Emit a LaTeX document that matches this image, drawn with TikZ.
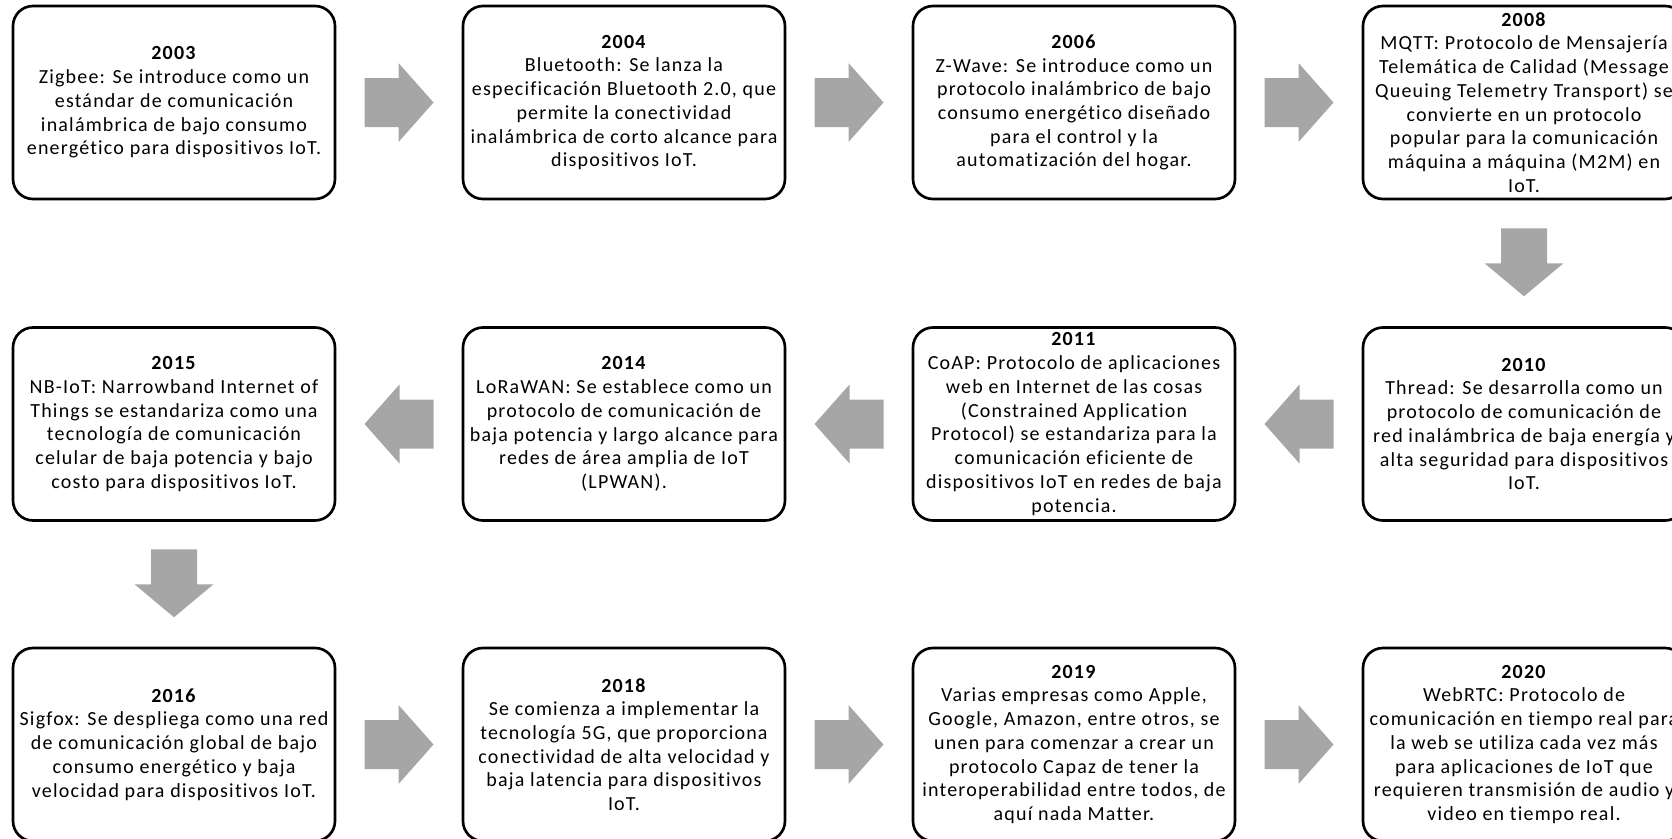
\documentclass[tikz,border=0pt]{standalone}
\usepackage{fontspec}
\setmainfont{Carlito}[LetterSpace=6,Ligatures=NoCommon]
\usetikzlibrary{calc}
\definecolor{arrowfill}{RGB}{166,166,166}
\tikzset{
  evbox/.style={draw=black, line width=2pt, rounded corners=15pt, fill=white,
    minimum width=241.5pt, minimum height=144.75pt, inner sep=0pt,
    align=center, font=\fontsize{15}{17.8}\selectfont},
  rblk/.pic={\fill[arrowfill] (-34.5,-24.5) -- ++(34,0) -- ++(0,-15) -- ++(35,39.5) -- ++(-35,39.5) -- ++(0,-15) -- ++(-34,0) -- cycle;},
  lblk/.pic={\fill[arrowfill] (34.5,-24.5) -- ++(-34,0) -- ++(0,-15) -- ++(-35,39.5) -- ++(35,39.5) -- ++(0,-15) -- ++(34,0) -- cycle;},
  dblk/.pic={\fill[arrowfill] (-23,-35) -- ++(46,0) -- ++(0,35) -- ++(16.5,0) -- ++(-39.5,33) -- ++(-39.5,-33) -- ++(16.5,0) -- cycle;}
}
\begin{document}
\begin{tikzpicture}[x=0.75pt,y=-0.75pt]
\useasboundingbox (0,0) rectangle (1672,839);
% row 1
\node[evbox] (b1) at (174,102.5) {\textbf{2003}\\Zigbee: Se introduce como un\\estándar de comunicación\\inalámbrica de bajo consumo\\energético para dispositivos IoT.};
\node[evbox] (b2) at (624,102.5) {\textbf{2004}\\Bluetooth: Se lanza la\\especificación Bluetooth 2.0, que\\permite la conectividad\\inalámbrica de corto alcance para\\dispositivos IoT.};
\node[evbox] (b3) at (1074,102.5) {\textbf{2006}\\Z-Wave: Se introduce como un\\protocolo inalámbrico de bajo\\consumo energético diseñado\\para el control y la\\automatización del hogar.};
\node[evbox] (b4) at (1524,102.5) {\textbf{2008}\\MQTT: Protocolo de Mensajería\\Telemática de Calidad (Message\\Queuing Telemetry Transport) se\\convierte en un protocolo\\popular para la comunicación\\máquina a máquina (M2M) en\\IoT.};
% row 2
\node[evbox] (b5) at (1524,424) {\textbf{2010}\\Thread: Se desarrolla como un\\protocolo de comunicación de\\red inalámbrica de baja energía y\\alta seguridad para dispositivos\\IoT.};
\node[evbox] (b6) at (1074,424) {\textbf{2011}\\CoAP: Protocolo de aplicaciones\\web en Internet de las cosas\\(Constrained Application\\Protocol) se estandariza para la\\comunicación eficiente de\\dispositivos IoT en redes de baja\\potencia.};
\node[evbox] (b7) at (624,424) {\textbf{2014}\\LoRaWAN: Se establece como un\\protocolo de comunicación de\\baja potencia y largo alcance para\\redes de área amplia de IoT\\(LPWAN).};
\node[evbox] (b8) at (174,424) {\textbf{2015}\\NB-IoT: Narrowband Internet of\\Things se estandariza como una\\tecnología de comunicación\\celular de baja potencia y bajo\\costo para dispositivos IoT.};
% row 3
\node[evbox] (b9) at (174,744.5) {\textbf{2016}\\Sigfox: Se despliega como una red\\de comunicación global de bajo\\consumo energético y baja\\velocidad para dispositivos IoT.};
\node[evbox] (b10) at (624,744.5) {\textbf{2018}\\Se comienza a implementar la\\tecnología 5G, que proporciona\\conectividad de alta velocidad y\\baja latencia para dispositivos\\IoT.};
\node[evbox] (b11) at (1074,744.5) {\textbf{2019}\\Varias empresas como Apple,\\Google, Amazon, entre otros, se\\unen para comenzar a crear un\\protocolo Capaz de tener la\\interoperabilidad entre todos, de\\aquí nada Matter.};
\node[evbox] (b12) at (1524,744.5) {\textbf{2020}\\WebRTC: Protocolo de\\comunicación en tiempo real para\\la web se utiliza cada vez más\\para aplicaciones de IoT que\\requieren transmisión de audio y\\video en tiempo real.};
% arrows
\coordinate (m12) at ($(b1.east)!0.5!(b2.west)$);
\coordinate (m23) at ($(b2.east)!0.5!(b3.west)$);
\coordinate (m34) at ($(b3.east)!0.5!(b4.west)$);
\coordinate (m45) at ($(b4.south)!0.5!(b5.north)$);
\coordinate (m56) at ($(b6.east)!0.5!(b5.west)$);
\coordinate (m67) at ($(b7.east)!0.5!(b6.west)$);
\coordinate (m78) at ($(b8.east)!0.5!(b7.west)$);
\coordinate (m89) at ($(b8.south)!0.5!(b9.north)$);
\coordinate (m910) at ($(b9.east)!0.5!(b10.west)$);
\coordinate (m1011) at ($(b10.east)!0.5!(b11.west)$);
\coordinate (m1112) at ($(b11.east)!0.5!(b12.west)$);
\pic at (m12) {rblk};
\pic at (m23) {rblk};
\pic at (m34) {rblk};
\pic at (m45) {dblk};
\pic at (m56) {lblk};
\pic at (m67) {lblk};
\pic at (m78) {lblk};
\pic at (m89) {dblk};
\pic at (m910) {rblk};
\pic at (m1011) {rblk};
\pic at (m1112) {rblk};
\end{tikzpicture}
\end{document}
